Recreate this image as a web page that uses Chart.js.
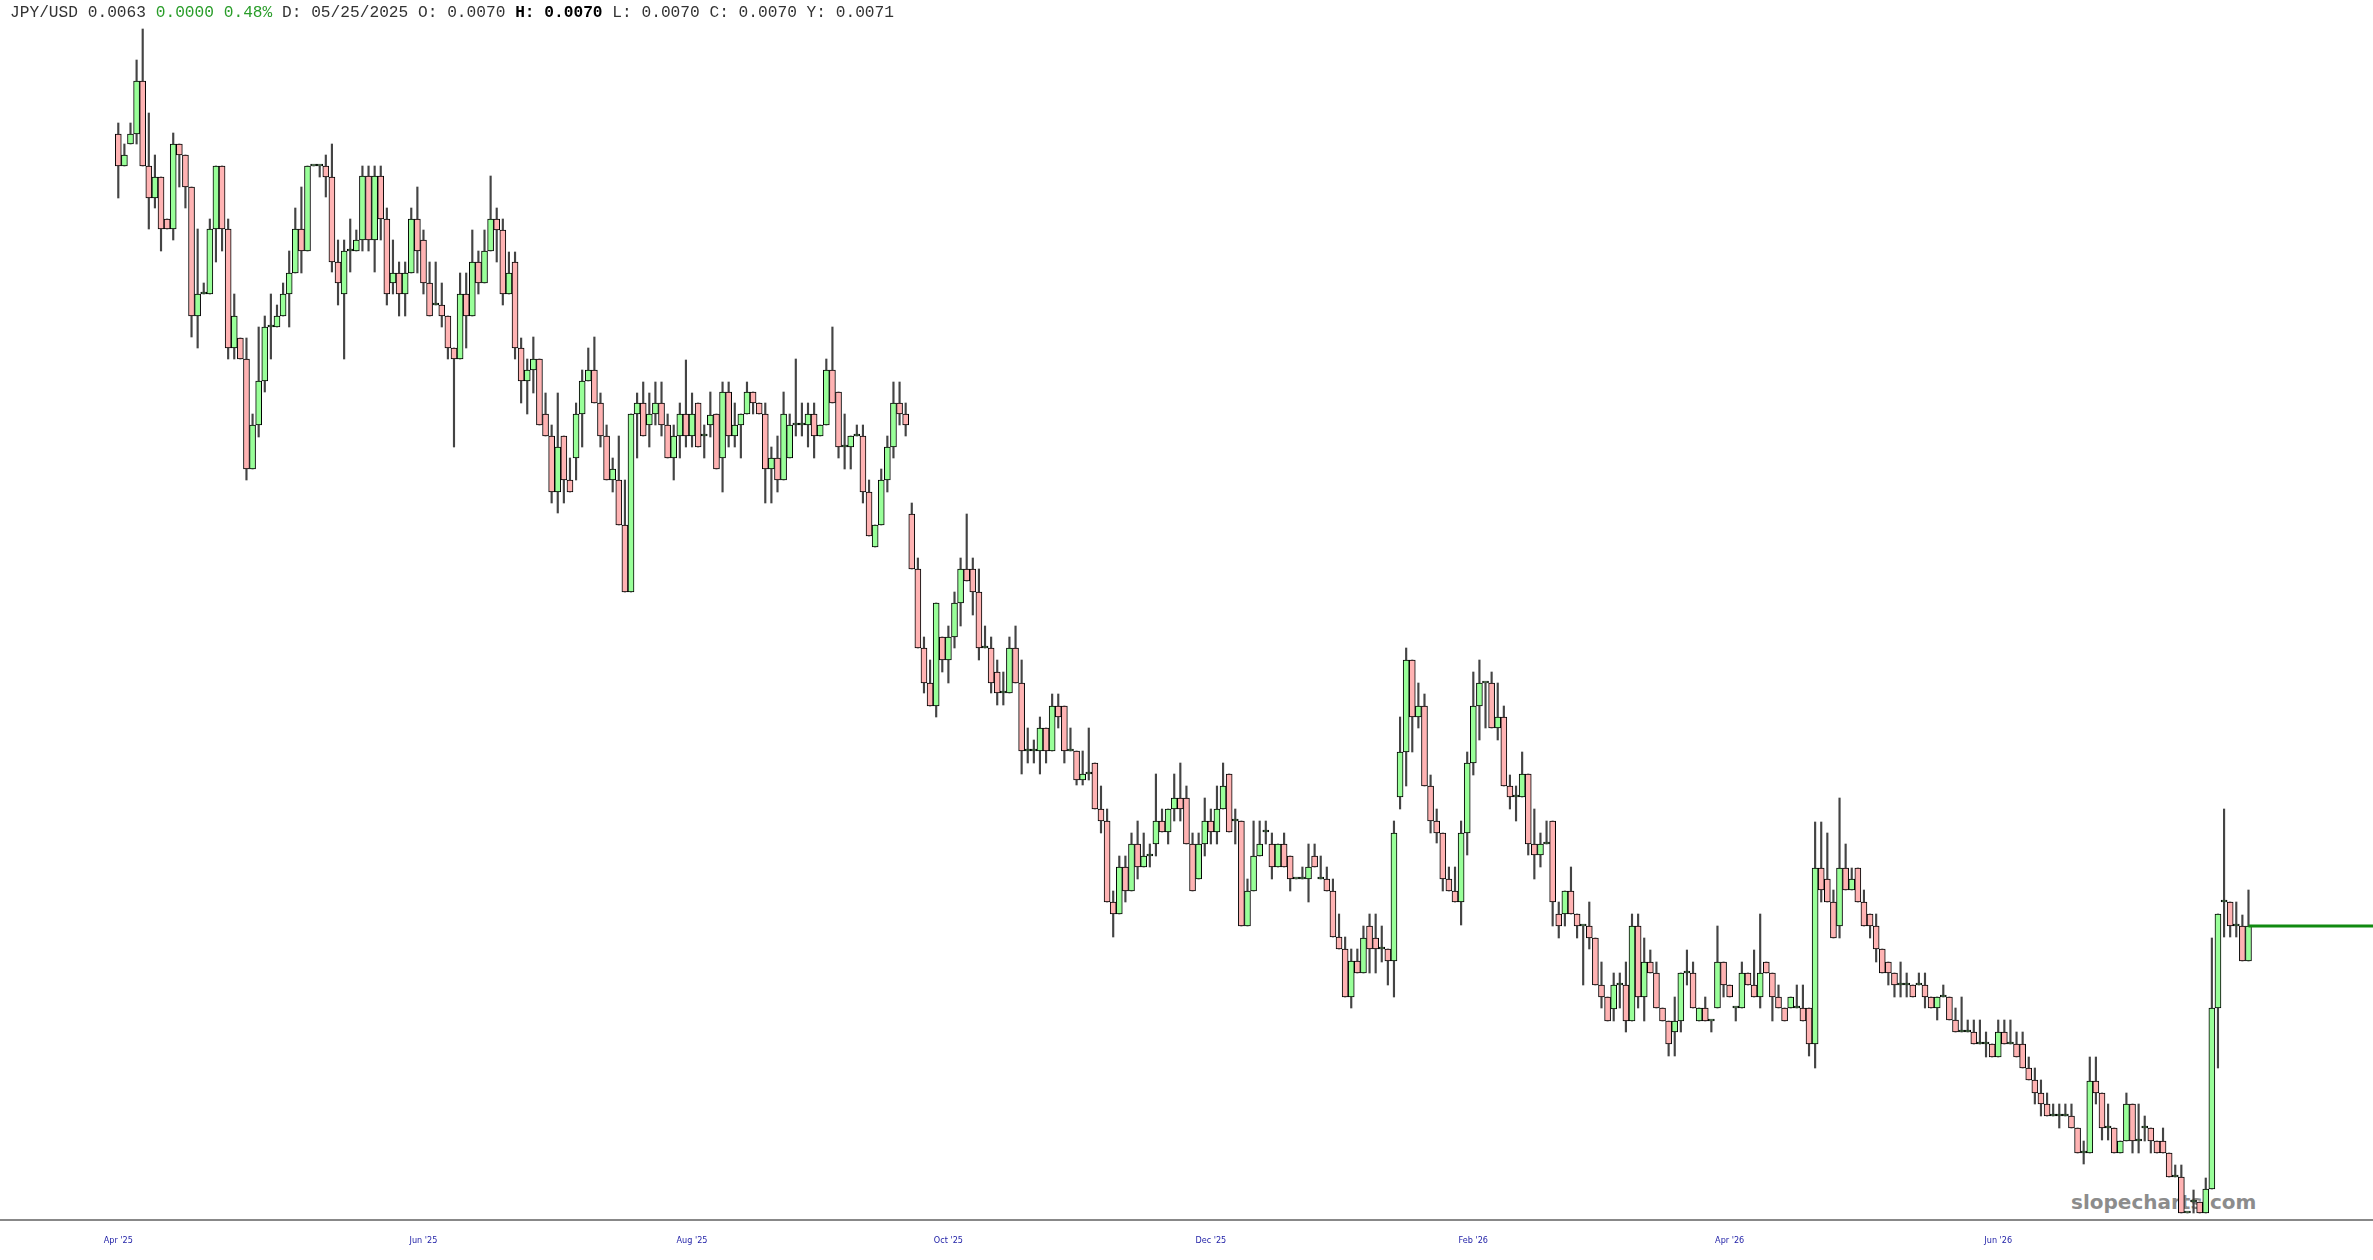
<!DOCTYPE html>
<html>
<head>
<meta charset="utf-8">
<script src="https://cdn.jsdelivr.net/npm/chart.js@4.4.1/dist/chart.umd.min.js"></script>
<style>
  html, body { margin: 0; padding: 0; background: #fff; }
  #wrap { position: relative; width: 2373px; height: 1260px; overflow: hidden; }
  #chart { position: absolute; left: 0; top: 0; z-index: 1; }
  #head { position: absolute; left: 10px; top: 4px; z-index: 2; white-space: pre;
          font: 16.2px "Liberation Mono", monospace; color: #333; line-height: 18px; }
  #head .up { color: #2a9d2a; }
  #head b { color: #000; }
  #wm { position: absolute; left: 2071px; top: 1190px; z-index: 0;
        font: bold 20px "DejaVu Sans", sans-serif; color: #8c8c8c; }
</style>
</head>
<body>
<div id="wrap">
  <div id="head">JPY/USD 0.0063 <span class="up">0.0000 0.48%</span> D: 05/25/2025 O: 0.0070 <b>H: 0.0070</b> L: 0.0070 C: 0.0070 Y: 0.0071</div>
  <div id="wm">slopecharts.com</div>
  <canvas id="chart" width="2373" height="1260"></canvas>
</div>
<script>
// daily candles, prices in millionths of a dollar per yen
const open = [
  7366,7334,7356,7366,7419,7334,7302,7323,7281,7271,
  7356,7345,7313,7184,7206,7206,7271,7334,7271,7152,
  7162,7141,7031,7075,7119,7173,7173,7184,7206,7227,
  7271,7249,7334,7334,7334,7323,7238,7206,7249,7249,
  7260,7324,7260,7324,7281,7217,7227,7206,7227,7281,
  7260,7217,7195,7195,7184,7152,7141,7206,7184,7238,
  7217,7249,7281,7270,7206,7238,7152,7119,7130,7141,
  7086,7064,7008,7064,7020,7042,7086,7119,7130,7097,
  7064,7020,7020,6975,6908,7086,7097,7075,7086,7097,
  7075,7042,7064,7086,7064,7097,7064,7075,7086,7042,
  7108,7064,7075,7086,7108,7097,7086,7031,7042,7020,
  7042,7075,7075,7075,7086,7064,7075,7130,7108,7053,
  7053,7064,7064,7008,6953,6975,7020,7053,7097,7086,
  6986,6931,6852,6817,6794,6863,6840,6863,6897,6931,
  6931,6908,6852,6852,6828,6807,6807,6852,6817,6749,
  6749,6749,6772,6749,6794,6794,6749,6749,6720,6726,
  6737,6691,6679,6598,6586,6633,6609,6656,6633,6644,
  6656,6679,6668,6691,6702,6702,6656,6621,6656,6679,
  6668,6691,6726,6679,6679,6574,6609,6644,6668,6656,
  6633,6656,6644,6621,6621,6621,6644,6621,6621,6609,
  6563,6551,6503,6539,6527,6574,6562,6551,6551,6539,
  6703,6748,6840,6783,6794,6714,6679,6667,6621,6609,
  6598,6667,6737,6794,6817,6817,6772,6783,6714,6703,
  6703,6726,6656,6645,6656,6679,6586,6586,6609,6586,
  6574,6574,6562,6515,6503,6491,6515,6515,6479,6574,
  6503,6538,6527,6492,6479,6468,6479,6527,6527,6479,
  6492,6479,6492,6538,6515,6492,6492,6527,6515,6503,
  6538,6527,6503,6492,6492,6492,6492,6492,6456,6632,
  6621,6598,6574,6632,6610,6632,6598,6586,6574,6551,
  6538,6527,6515,6515,6515,6515,6515,6503,6492,6503,
  6503,6480,6468,6468,6468,6456,6456,6456,6443,6468,
  6456,6456,6456,6432,6420,6407,6396,6384,6384,6384,
  6384,6372,6347,6347,6419,6407,6372,6372,6347,6359,
  6396,6359,6372,6372,6359,6359,6347,6323,6323,6287,
  6298,6298,6287,6311,6492,6598,6598,6574,6574,6539
];
const high = [
  7377,7356,7377,7440,7471,7387,7345,7323,7281,7367,
  7356,7345,7313,7271,7217,7281,7334,7334,7281,7206,
  7162,7162,7086,7173,7184,7206,7195,7217,7249,7292,
  7313,7334,7334,7334,7345,7356,7260,7260,7281,7270,
  7334,7334,7334,7334,7292,7260,7238,7238,7292,7313,
  7270,7238,7238,7217,7184,7152,7227,7227,7270,7249,
  7270,7324,7292,7281,7248,7248,7162,7141,7163,7141,
  7107,7075,7107,7064,7042,7097,7130,7152,7163,7107,
  7075,7042,7064,7020,7086,7107,7118,7107,7118,7118,
  7086,7075,7097,7140,7107,7097,7075,7108,7086,7118,
  7118,7097,7086,7118,7108,7097,7097,7053,7064,7108,
  7086,7141,7097,7097,7097,7075,7141,7173,7108,7086,
  7064,7075,7075,7020,6975,7031,7064,7118,7118,7097,
  6997,6942,6863,6840,6897,6863,6874,6908,6942,6986,
  6942,6931,6874,6863,6840,6828,6863,6874,6840,6772,
  6760,6783,6772,6806,6806,6794,6772,6749,6749,6772,
  6737,6714,6691,6609,6644,6644,6667,6679,6667,6656,
  6726,6691,6691,6726,6737,6714,6667,6667,6702,6691,
  6714,6737,6726,6691,6679,6621,6679,6679,6679,6667,
  6656,6667,6644,6621,6633,6656,6656,6644,6633,6621,
  6586,6563,6551,6551,6574,6586,6586,6574,6551,6679,
  6783,6852,6840,6817,6806,6725,6691,6667,6633,6633,
  6679,6748,6828,6840,6817,6828,6817,6794,6725,6714,
  6748,6726,6691,6667,6679,6679,6598,6609,6633,6586,
  6574,6598,6562,6538,6503,6527,6527,6538,6586,6586,
  6562,6550,6538,6492,6479,6503,6527,6550,6538,6492,
  6503,6479,6574,6538,6515,6492,6538,6527,6550,6586,
  6538,6527,6515,6492,6503,6515,6515,6492,6678,6678,
  6667,6610,6702,6656,6632,6632,6610,6586,6586,6551,
  6538,6527,6538,6527,6515,6527,6527,6503,6503,6515,
  6503,6492,6503,6480,6480,6480,6468,6456,6480,6480,
  6480,6468,6468,6443,6432,6420,6407,6396,6396,6396,
  6396,6372,6359,6443,6443,6407,6396,6372,6359,6407,
  6396,6396,6384,6372,6359,6372,6347,6335,6335,6287,
  6310,6298,6322,6562,6586,6691,6598,6598,6585,6610
];
const low = [
  7302,7334,7356,7356,7334,7271,7292,7249,7271,7260,
  7313,7292,7163,7152,7206,7206,7238,7249,7141,7141,
  7141,7020,7031,7063,7108,7141,7173,7184,7173,7227,
  7227,7249,7334,7323,7303,7228,7195,7141,7228,7249,
  7249,7249,7228,7260,7195,7206,7184,7184,7227,7227,
  7206,7184,7195,7173,7141,7053,7141,7152,7184,7206,
  7217,7249,7238,7195,7206,7141,7097,7086,7107,7075,
  7064,6997,6987,6997,7008,7020,7053,7119,7097,7053,
  7020,7008,6975,6908,6908,7042,7064,7053,7075,7064,
  7042,7020,7042,7053,7053,7053,7042,7063,7031,7008,
  7053,7053,7042,7086,7086,7086,6997,6997,7008,7020,
  7042,7064,7064,7053,7042,7064,7075,7097,7042,7031,
  7031,7064,6997,6964,6953,6975,7008,7042,7075,7064,
  6931,6852,6807,6794,6783,6828,6817,6852,6874,6919,
  6885,6840,6852,6807,6795,6795,6807,6817,6726,6737,
  6737,6726,6737,6749,6772,6737,6749,6715,6715,6720,
  6691,6667,6598,6563,6586,6598,6609,6621,6633,6633,
  6644,6668,6656,6679,6679,6656,6609,6621,6644,6656,
  6656,6691,6668,6656,6574,6574,6609,6644,6656,6621,
  6633,6633,6609,6621,6621,6598,6633,6621,6609,6563,
  6551,6503,6492,6527,6527,6527,6527,6538,6515,6503,
  6691,6714,6748,6772,6714,6667,6657,6609,6609,6598,
  6575,6645,6725,6760,6772,6772,6760,6714,6691,6679,
  6703,6645,6621,6633,6656,6574,6562,6574,6586,6562,
  6515,6551,6515,6492,6479,6479,6492,6468,6479,6492,
  6479,6527,6492,6479,6444,6444,6468,6515,6492,6479,
  6479,6468,6492,6503,6503,6479,6492,6515,6503,6492,
  6527,6479,6492,6479,6492,6492,6479,6444,6432,6598,
  6598,6562,6562,6610,6610,6598,6574,6562,6538,6527,
  6515,6503,6503,6503,6503,6515,6492,6492,6480,6503,
  6480,6468,6468,6468,6456,6456,6443,6443,6443,6456,
  6456,6443,6432,6420,6396,6384,6384,6384,6372,6384,
  6372,6347,6336,6347,6396,6360,6360,6347,6347,6359,
  6347,6347,6359,6347,6347,6347,6323,6323,6287,6287,
  6287,6287,6287,6311,6432,6563,6563,6563,6539,6539
];
const close = [
  7334,7345,7366,7419,7334,7302,7323,7271,7271,7356,
  7345,7313,7184,7206,7206,7271,7334,7271,7152,7184,
  7141,7031,7075,7119,7173,7173,7184,7206,7227,7271,
  7249,7334,7334,7334,7323,7238,7217,7249,7249,7260,
  7324,7260,7324,7281,7206,7227,7206,7227,7281,7249,
  7217,7184,7195,7184,7152,7141,7206,7184,7238,7217,
  7249,7281,7270,7206,7227,7152,7119,7130,7141,7075,
  7064,7008,7053,7020,7008,7086,7119,7130,7097,7064,
  7020,7031,6975,6908,7086,7097,7064,7086,7097,7075,
  7042,7064,7086,7064,7086,7053,7064,7085,7031,7108,
  7064,7075,7086,7108,7097,7086,7031,7042,7020,7086,
  7075,7075,7075,7086,7064,7075,7130,7097,7053,7053,
  7064,7064,7008,6964,6975,7020,7053,7097,7086,7075,
  6931,6852,6817,6794,6897,6840,6863,6897,6931,6919,
  6908,6852,6852,6817,6807,6807,6852,6817,6749,6749,
  6749,6772,6749,6794,6783,6749,6749,6720,6726,6726,
  6691,6679,6598,6586,6633,6609,6656,6633,6644,6644,
  6679,6668,6691,6702,6691,6656,6609,6656,6679,6668,
  6691,6714,6668,6679,6574,6609,6644,6656,6668,6633,
  6656,6633,6621,6621,6621,6633,6633,6621,6609,6563,
  6551,6503,6539,6527,6562,6551,6551,6551,6539,6667,
  6748,6840,6783,6794,6714,6679,6667,6621,6609,6598,
  6667,6737,6794,6817,6817,6772,6783,6714,6703,6703,
  6726,6656,6645,6656,6656,6598,6574,6609,6586,6574,
  6574,6562,6515,6503,6479,6515,6515,6479,6574,6503,
  6538,6527,6492,6479,6456,6479,6527,6527,6492,6492,
  6479,6479,6538,6515,6503,6492,6527,6515,6503,6527,
  6527,6503,6492,6479,6503,6492,6479,6456,6632,6610,
  6598,6562,6632,6610,6621,6598,6574,6574,6551,6527,
  6527,6515,6515,6515,6503,6515,6503,6492,6503,6503,
  6480,6468,6468,6468,6456,6456,6456,6443,6468,6456,
  6456,6443,6432,6420,6407,6396,6384,6384,6384,6384,
  6372,6347,6347,6419,6407,6372,6372,6347,6359,6396,
  6359,6359,6372,6359,6347,6347,6323,6323,6287,6287,
  6298,6287,6311,6492,6586,6598,6574,6574,6539,6574
];

// month labels and the candle they sit under
const tickIdx = [0, 50, 94, 136, 179, 222, 264, 308];
const tickText = ["Apr '25", "Jun '25", "Aug '25", "Oct '25", "Dec '25", "Feb '26", "Apr '26", "Jun '26"];

const K = 1e-6;
const UP = '#99ff99', DOWN = '#ffb3b3';

const wicks = low.map((l, i) => ({ x: i, y: [l * K, high[i] * K] }));
const bodies = open.map((o, i) => ({ x: i, y: [Math.min(o, close[i]) * K, Math.max(o, close[i]) * K] }));
const bodyColors = open.map((o, i) => close[i] >= o ? UP : DOWN);
const last = close.length - 1;

new Chart(document.getElementById('chart'), {
  type: 'bar',
  data: {
    datasets: [
      {
        data: wicks, grouped: false, order: 3,
        barThickness: 1.5, backgroundColor: '#444', borderWidth: 0
      },
      {
        data: bodies, grouped: false, order: 2,
        barThickness: 6, minBarLength: 2,
        backgroundColor: bodyColors, borderColor: '#000', borderWidth: 1, borderSkipped: false
      },
      {
        type: 'line', order: 1,
        data: [{ x: last, y: close[last] * K }, { x: 369.4, y: close[last] * K }],
        borderColor: '#118a11', borderWidth: 3, pointRadius: 0
      }
    ]
  },
  options: {
    responsive: false,
    animation: false,
    layout: { padding: 0 },
    plugins: { legend: { display: false }, tooltip: { enabled: false } },
    scales: {
      x: {
        type: 'linear', min: -19.38, max: 369.4, offset: false,
        grid: { display: false, drawTicks: false },
        border: { display: true, color: '#888', width: 2 },
        afterBuildTicks: s => { s.ticks = tickIdx.map(v => ({ value: v })); },
        afterFit: s => { s.height = 40; },
        ticks: {
          autoSkip: false, maxRotation: 0, padding: 15,
          color: '#2323a8', font: { family: 'DejaVu Sans Condensed', size: 9 },
          callback: v => tickText[tickIdx.indexOf(v)] ?? ''
        }
      },
      y: { display: false, min: 0.00628, max: 0.0075 }
    }
  }
});
</script>
</body>
</html>
